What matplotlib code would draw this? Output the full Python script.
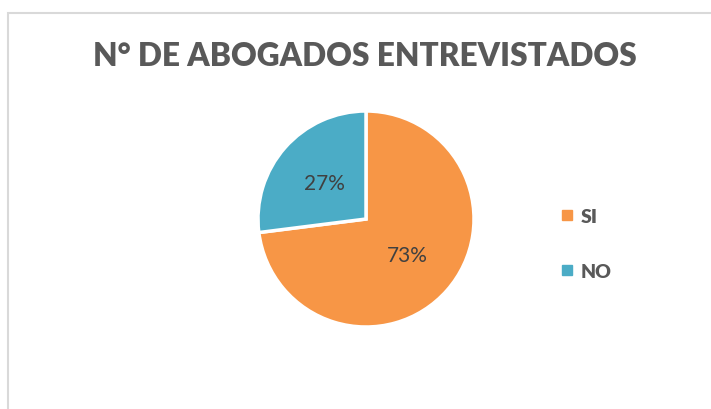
import matplotlib.pyplot as plt
from matplotlib.patches import Rectangle
from matplotlib.lines import Line2D

labels = ['SI', 'NO']
values = [73, 27]
colors = ['#F79646', '#4BACC6']
title = 'N° DE ABOGADOS ENTREVISTADOS'

W, H = 711, 410
fig = plt.figure(figsize=(W / 100, H / 100), dpi=100)
fig.patch.set_facecolor('white')

# chart border (runs off the right/bottom of the picture)
fig.patches.append(Rectangle((8 / W, -0.05), 1.0, 1 - 14 / H + 0.05, transform=fig.transFigure,
                             fill=False, edgecolor='#D9D9D9', linewidth=1.5))

fig.text(365 / W, 1 - 57 / H, title, ha='center', va='center', fontsize=22.8,
         fontweight='heavy', color='#595959', family='Lato')

ax = fig.add_axes([258 / W, (H - 328) / H, 216 / W, 216 / H])
wedges, texts, autotexts = ax.pie(values, colors=colors, startangle=90, counterclock=False,
                                  autopct='%1.0f%%', pctdistance=0.51, radius=1.0,
                                  wedgeprops=dict(edgecolor='white', linewidth=2.5),
                                  textprops=dict(fontsize=15, color='#404040', family='Lato'))
ax.set_xlim(-1.0, 1.0)
ax.set_ylim(-1.0, 1.0)
ax.set_aspect('equal')

handles = [Line2D([], [], marker='s', linestyle='none', markersize=6.5,
                  markerfacecolor=c, markeredgecolor=c) for c in colors]
leg = fig.legend(handles, labels, loc='center left', bbox_to_anchor=(540 / W, 1 - 245 / H),
                 frameon=False, handletextpad=0.2, labelspacing=1.95, handlelength=1.0,
                 prop=dict(family='Lato', weight='heavy', size=14))
for t in leg.get_texts():
    t.set_color('#595959')

fig.savefig('out.png', dpi=100)
